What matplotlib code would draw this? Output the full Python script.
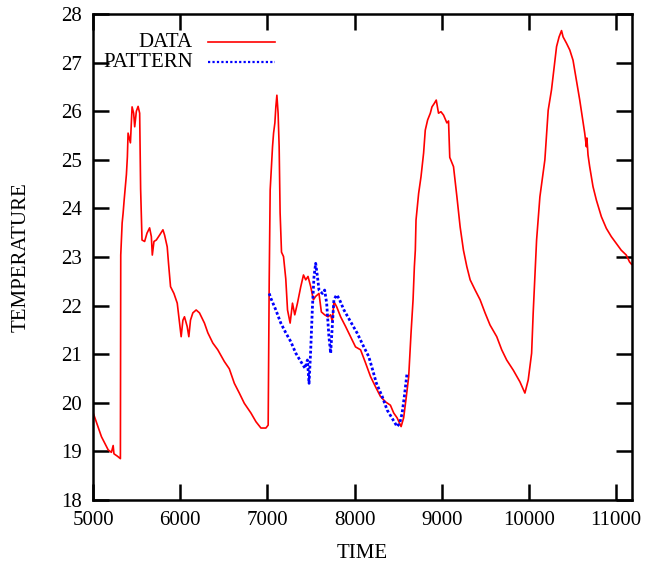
import matplotlib
matplotlib.use("Agg")
import matplotlib.pyplot as plt

# ---------- DATA ----------
data_time = [5000, 5097, 5174, 5211, 5231, 5240, 5280, 5314, 5318, 5334, 5345, 5357,
             5383, 5394, 5402, 5429, 5448, 5466, 5478, 5497, 5517, 5535, 5546, 5562,
             5592, 5619, 5649, 5669, 5680, 5699, 5726, 5763, 5802, 5821, 5851, 5866,
             5889, 5928, 5966, 5992, 6011, 6031, 6049, 6080, 6099, 6118, 6145, 6183,
             6221, 6278, 6317, 6374, 6431, 6506, 6563, 6621, 6678, 6735, 6811, 6869,
             6926, 6983, 7009, 7021, 7032, 7048, 7059, 7071, 7086, 7097, 7109, 7123,
             7135, 7146, 7162, 7185, 7211, 7231, 7261, 7288, 7314, 7345, 7383, 7414,
             7440, 7466, 7497, 7528, 7554, 7592, 7619, 7657, 7695, 7726, 7745, 7763,
             7794, 7840, 7897, 7954, 8011, 8069, 8126, 8183, 8240, 8297, 8354, 8411,
             8449, 8488, 8534, 8563, 8594, 8621, 8648, 8671, 8686, 8697, 8705, 8735,
             8762, 8792, 8811, 8838, 8869, 8888, 8914, 8937, 8963, 8991, 9021, 9059,
             9078, 9092, 9135, 9174, 9211, 9249, 9288, 9326, 9383, 9440, 9497, 9554,
             9631, 9688, 9745, 9821, 9897, 9954, 9992, 10031, 10049, 10088, 10126,
             10183, 10221, 10259, 10289, 10317, 10346, 10374, 10392, 10431, 10469,
             10506, 10545, 10583, 10640, 10659, 10665, 10678, 10697, 10735, 10774,
             10831, 10888, 10945, 11002, 11059, 11117, 11154, 11177]
data_temp = [19.80, 19.30, 19.03, 18.98, 19.12, 18.95, 18.90, 18.85, 23.04, 23.70, 23.90, 24.17,
             24.70, 25.06, 25.55, 25.35, 26.09, 25.96, 25.68, 26.00, 26.10, 25.96, 24.40, 23.35,
             23.32, 23.49, 23.60, 23.42, 23.04, 23.32, 23.35, 23.45, 23.56, 23.45, 23.21, 22.87,
             22.39, 22.25, 22.05, 21.64, 21.36, 21.70, 21.77, 21.57, 21.36, 21.70, 21.85, 21.91,
             21.85, 21.64, 21.44, 21.23, 21.09, 20.85, 20.70, 20.40, 20.20, 19.99, 19.79, 19.61,
             19.48, 19.48, 19.54, 22.53, 24.38, 24.93, 25.27, 25.55, 25.76, 26.09, 26.33, 25.96,
             25.27, 23.91, 23.10, 23.01, 22.55, 21.91, 21.64, 22.05, 21.81, 22.05, 22.39, 22.63,
             22.53, 22.60, 22.39, 22.12, 22.19, 22.25, 21.87, 21.81, 21.77, 21.81, 21.67, 22.08,
             21.98, 21.77, 21.57, 21.36, 21.15, 21.09, 20.82, 20.54, 20.33, 20.13, 20.02, 19.95,
             19.79, 19.69, 19.51, 19.69, 20.13, 20.54, 21.44, 22.12, 22.80, 23.14, 23.76, 24.31,
             24.65, 25.14, 25.61, 25.82, 25.96, 26.09, 26.16, 26.23, 25.96, 25.99, 25.92, 25.76,
             25.80, 25.05, 24.86, 24.24, 23.62, 23.14, 22.80, 22.53, 22.32, 22.12, 21.85, 21.60,
             21.36, 21.09, 20.88, 20.67, 20.43, 20.20, 20.47, 21.02, 21.85, 23.35, 24.24,
             25.00, 26.02, 26.44, 26.91, 27.33, 27.53, 27.66, 27.53, 27.40, 27.26,
             27.05, 26.64, 26.23, 25.55, 25.27, 25.45, 25.10, 24.86, 24.45, 24.17,
             23.83, 23.59, 23.42, 23.28, 23.14, 23.04, 22.90, 22.85]

pattern_time = [7021, 7040, 7097, 7154, 7211, 7268, 7326, 7383, 7432, 7459, 7478, 7497,
                7517, 7535, 7554, 7574, 7592, 7631, 7657, 7680, 7706, 7726, 7737, 7763,
                7794, 7821, 7878, 7954, 8031, 8106, 8163, 8202, 8251, 8317, 8374, 8431,
                8488, 8518, 8545, 8571, 8602]
pattern_temp = [22.25, 22.15, 21.91, 21.64, 21.44, 21.26, 21.02, 20.85, 20.71, 20.88, 20.40, 21.09,
                21.98, 22.60, 22.87, 22.60, 22.32, 22.25, 22.32, 22.05, 21.36, 21.02, 21.36, 22.12,
                22.22, 22.15, 21.91, 21.67, 21.43, 21.15, 20.95, 20.71, 20.40, 20.13, 19.85, 19.68,
                19.51, 19.58, 19.78, 20.13, 20.61]

x_ticks = [5000, 6000, 7000, 8000, 9000, 10000, 11000]
y_ticks = [18, 19, 20, 21, 22, 23, 24, 25, 26, 27, 28]

plt.rcParams['font.family'] = ['Liberation Serif', 'DejaVu Serif']

fig = plt.figure(figsize=(6.46, 5.63), dpi=100)
ax = fig.add_axes([0.144, 0.112, 0.834, 0.863])

ax.plot(data_time, data_temp, color='red', linewidth=1.2)
ax.plot(pattern_time, pattern_temp, color='blue', linewidth=2.0, linestyle=(0, (1, 0.8)))

ax.set_xlim(5000, 11180)
ax.set_ylim(18, 28)
ax.set_xticks(x_ticks)
ax.set_yticks(y_ticks)
ax.tick_params(direction='in', length=11.5, width=1.8, top=True, right=True,
               labelsize=15, pad=8)
for s in ax.spines.values():
    s.set_linewidth(1.8)

ax.set_xlabel("TIME", fontsize=15, labelpad=10)
ax.set_ylabel("TEMPERATURE", fontsize=15, labelpad=22)

# gnuplot style key, labels right aligned
ax.text(0.1855, 0.942, "DATA", transform=ax.transAxes, ha='right', va='center', fontsize=15)
ax.text(0.1855, 0.901, "PATTERN", transform=ax.transAxes, ha='right', va='center', fontsize=15)
ax.plot([0.2134, 0.3377], [0.942, 0.942], transform=ax.transAxes, color='red', linewidth=1.2)
ax.plot([0.2134, 0.3377], [0.901, 0.901], transform=ax.transAxes, color='blue',
        linewidth=1.6, linestyle=(0, (1, 1)))

plt.savefig("out.png", dpi=100)
